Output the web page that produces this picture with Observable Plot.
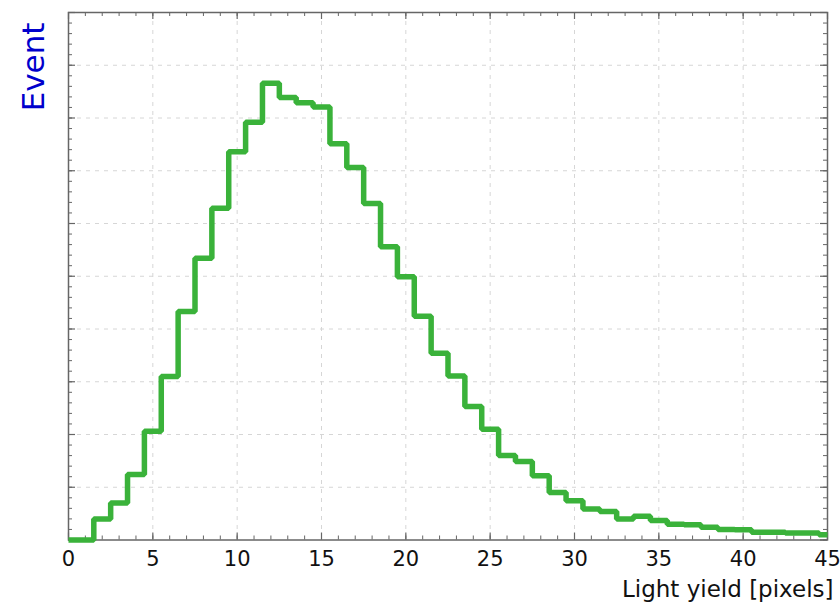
<!DOCTYPE html>
<html>
<head>
<meta charset="utf-8">
<script src="https://cdn.jsdelivr.net/npm/d3@7"></script>
<script src="https://cdn.jsdelivr.net/npm/@observablehq/plot@0.6"></script>
<style>
  html, body { margin: 0; padding: 0; background: #fff; }
  #chart svg { display: block; }
</style>
</head>
<body>
<div id="chart"></div>
<script>
// Bin centres (light yield, pixels) — unit-width bins
const binCenters = [0,1,2,3,4,5,6,7,8,9,10,11,12,13,14,15,16,17,18,19,20,21,22,23,24,25,26,27,28,29,30,31,32,33,34,35,36,37,38,39,40,41,42,43,44,45];
// Event counts (arbitrary units, y axis unlabeled)
const counts = [0,0,0.40,0.70,1.24,2.06,3.10,4.33,5.34,6.29,7.36,7.92,8.66,8.39,8.29,8.21,7.51,7.06,6.38,5.56,4.99,4.24,3.54,3.11,2.53,2.10,1.60,1.49,1.22,0.90,0.745,0.59,0.54,0.40,0.45,0.37,0.30,0.29,0.24,0.20,0.195,0.145,0.145,0.135,0.135,0.10];
// Axis ticks
const xMajorTicks = [0,5,10,15,20,25,30,35,40,45];
const xMinorTicks = [0,1,2,3,4,5,6,7,8,9,10,11,12,13,14,15,16,17,18,19,20,21,22,23,24,25,26,27,28,29,30,31,32,33,34,35,36,37,38,39,40,41,42,43,44,45];
const yMajorTicks = [0,1,2,3,4,5,6,7,8,9,10];
const yMinorTicks = [0,0.2,0.4,0.6,0.8,1,1.2,1.4,1.6,1.8,2,2.2,2.4,2.6,2.8,3,3.2,3.4,3.6,3.8,4,4.2,4.4,4.6,4.8,5,5.2,5.4,5.6,5.8,6,6.2,6.4,6.6,6.8,7,7.2,7.4,7.6,7.8,8,8.2,8.4,8.6,8.8,9,9.2,9.4,9.6,9.8,10];
const xGrid = [5,10,15,20,25,30,35,40];
const yGrid = [1,2,3,4,5,6,7,8,9];
const xDomain = [0, 45];
const yDomain = [0, 10];
const xLabel = "Light yield [pixels]";
const yLabel = "Event";

// Step outline: left edge of each bin, plus the right end of the range
const pts = binCenters.map((c, i) => ({x: Math.max(xDomain[0], c - 0.5), y: counts[i]}));
pts.push({x: xDomain[1], y: counts[counts.length - 1]});

const W = 840, H = 602, mL = 68, mT = 12, mR = 13, mB = 62.5;
const fH = H - mT - mB, fW = W - mL - mR;
const axisColor = "#666";
const gridStyle = {stroke: "#d6d6d6", strokeDasharray: "4,5", strokeWidth: 1};

const chart = Plot.plot({
  width: W, height: H,
  marginLeft: mL, marginTop: mT, marginRight: mR, marginBottom: mB,
  x: {domain: xDomain, axis: null},
  y: {domain: yDomain, axis: null},
  style: {fontFamily: "DejaVu Sans", background: "white"},
  marks: [
    Plot.ruleX(xGrid, {x: d => d, ...gridStyle}),
    Plot.ruleY(yGrid, {y: d => d, ...gridStyle}),
    Plot.frame({stroke: axisColor, strokeWidth: 1.5}),
    // bottom & top ticks (inward)
    Plot.tickX(xMajorTicks, {x: d => d, insetTop: fH - 7, stroke: axisColor, strokeWidth: 1.2}),
    Plot.tickX(xMinorTicks, {x: d => d, insetTop: fH - 4, stroke: axisColor, strokeWidth: 1}),
    Plot.tickX(xMajorTicks, {x: d => d, insetBottom: fH - 7, stroke: axisColor, strokeWidth: 1.2}),
    Plot.tickX(xMinorTicks, {x: d => d, insetBottom: fH - 4, stroke: axisColor, strokeWidth: 1}),
    // left & right ticks (inward)
    Plot.tickY(yMajorTicks, {y: d => d, insetRight: fW - 7, stroke: axisColor, strokeWidth: 1.2}),
    Plot.tickY(yMinorTicks, {y: d => d, insetRight: fW - 4, stroke: axisColor, strokeWidth: 1}),
    Plot.tickY(yMajorTicks, {y: d => d, insetLeft: fW - 7, stroke: axisColor, strokeWidth: 1.2}),
    Plot.tickY(yMinorTicks, {y: d => d, insetLeft: fW - 4, stroke: axisColor, strokeWidth: 1}),
    // histogram outline
    Plot.line(pts, {x: "x", y: "y", curve: "step-after", stroke: "#3ab23a", strokeWidth: 5.5, strokeLinejoin: "miter", strokeLinecap: "butt"}),
    // x tick labels
    Plot.text(xMajorTicks, {x: d => d, text: d => String(d), frameAnchor: "bottom", dy: 19, lineAnchor: "middle", fontSize: 21, fill: "#111"}),
    // x label
    Plot.text([xLabel], {frameAnchor: "bottom-right", dx: 6, dy: 57, textAnchor: "end", lineAnchor: "bottom", fontSize: 23, fill: "#111"}),
    // y label
    Plot.text([yLabel], {frameAnchor: "top-left", rotate: -90, dx: -25, dy: 10, textAnchor: "end", lineAnchor: "bottom", fontSize: 31, fill: "#0000cc"})
  ]
});
document.getElementById("chart").appendChild(chart);
</script>
</body>
</html>
